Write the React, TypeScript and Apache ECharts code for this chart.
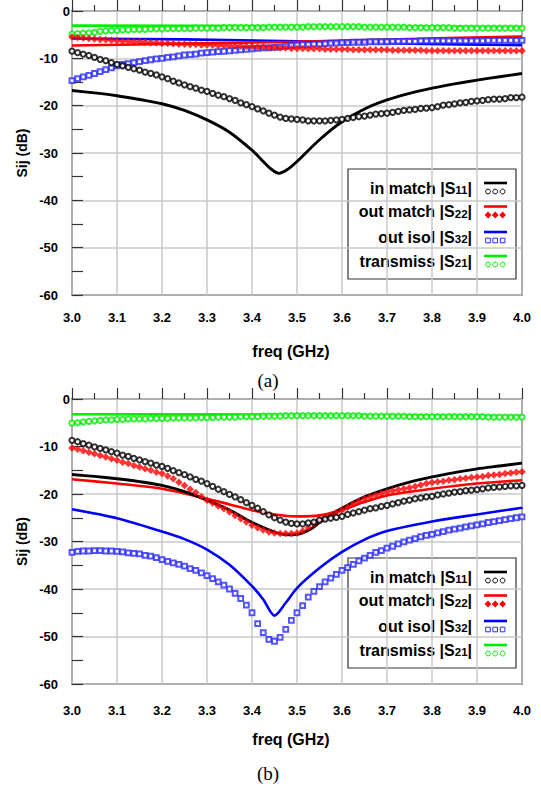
import React, { useEffect, useRef } from 'react';
import * as echarts from 'echarts';

// frequency grid of the simulated marker points (GHz), 81 points 3.0 .. 4.0
const FREQ: number[] = Array.from({ length: 81 }, (_, i) => Math.round((3 + i * 0.0125) * 10000) / 10000);
const X_TICKS = ['3.0', '3.1', '3.2', '3.3', '3.4', '3.5', '3.6', '3.7', '3.8', '3.9', '4.0'];
const Y_TICKS = ['0', '-10', '-20', '-30', '-40', '-50', '-60'];

// ---------- (a) simulated (markers) ----------
const A_S11_MARK = [
  -8.5, -8.8, -9.1, -9.4, -9.8, -10.2, -10.5, -10.9,
  -11.3, -11.6, -11.9, -12.2, -12.5, -12.9, -13.2, -13.5,
  -13.9, -14.3, -14.8, -15.2, -15.6, -16.0, -16.3, -16.7,
  -17.0, -17.4, -17.8, -18.1, -18.5, -18.9, -19.4, -19.8,
  -20.2, -20.7, -21.1, -21.6, -22.0, -22.4, -22.7, -22.8,
  -22.9, -23.0, -23.2, -23.2, -23.2, -23.2, -23.1, -23.0,
  -22.9, -22.7, -22.5, -22.3, -22.2, -22.0, -21.8, -21.7,
  -21.6, -21.4, -21.2, -21.0, -20.9, -20.8, -20.6, -20.5,
  -20.4, -20.2, -19.9, -19.8, -19.6, -19.4, -19.3, -19.1,
  -19.0, -18.9, -18.7, -18.6, -18.6, -18.5, -18.3, -18.3,
  -18.2,
];
const A_S22_MARK = [
  -5.5, -5.6, -5.7, -5.8, -5.9, -6.0, -6.1, -6.2,
  -6.3, -6.4, -6.4, -6.5, -6.5, -6.6, -6.7, -6.7,
  -6.8, -6.8, -6.9, -7.0, -7.0, -7.1, -7.1, -7.2,
  -7.2, -7.2, -7.3, -7.3, -7.3, -7.4, -7.4, -7.5,
  -7.5, -7.6, -7.6, -7.7, -7.7, -7.8, -7.8, -7.9,
  -7.9, -7.9, -8.0, -8.0, -8.0, -8.1, -8.1, -8.1,
  -8.1, -8.1, -8.2, -8.2, -8.2, -8.2, -8.2, -8.2,
  -8.2, -8.3, -8.3, -8.3, -8.3, -8.3, -8.3, -8.4,
  -8.4, -8.4, -8.4, -8.4, -8.4, -8.4, -8.4, -8.4,
  -8.4, -8.4, -8.4, -8.4, -8.4, -8.4, -8.4, -8.4,
  -8.4,
];
const A_S32_MARK = [
  -14.7, -14.3, -13.9, -13.6, -13.2, -12.8, -12.4, -12.0,
  -11.6, -11.3, -11.1, -10.9, -10.7, -10.5, -10.3, -10.1,
  -10.0, -9.8, -9.7, -9.5, -9.3, -9.2, -9.1, -8.9,
  -8.8, -8.7, -8.6, -8.5, -8.4, -8.3, -8.2, -8.1,
  -8.0, -7.9, -7.8, -7.8, -7.7, -7.6, -7.4, -7.3,
  -7.2, -7.1, -7.1, -7.0, -7.0, -6.9, -6.8, -6.8,
  -6.7, -6.7, -6.6, -6.6, -6.6, -6.5, -6.5, -6.5,
  -6.5, -6.4, -6.4, -6.4, -6.4, -6.4, -6.3, -6.3,
  -6.3, -6.3, -6.3, -6.3, -6.3, -6.3, -6.3, -6.3,
  -6.3, -6.3, -6.2, -6.2, -6.2, -6.2, -6.2, -6.2,
  -6.2,
];
const A_S21_MARK = [
  -4.9, -4.8, -4.7, -4.6, -4.5, -4.3, -4.2, -4.1,
  -4.1, -4.0, -4.0, -3.9, -3.9, -3.9, -3.8, -3.8,
  -3.8, -3.7, -3.7, -3.7, -3.7, -3.7, -3.6, -3.6,
  -3.6, -3.6, -3.6, -3.5, -3.5, -3.5, -3.5, -3.5,
  -3.5, -3.5, -3.5, -3.4, -3.4, -3.4, -3.4, -3.4,
  -3.4, -3.4, -3.3, -3.3, -3.3, -3.3, -3.3, -3.3,
  -3.3, -3.3, -3.3, -3.3, -3.4, -3.4, -3.4, -3.4,
  -3.4, -3.4, -3.4, -3.4, -3.5, -3.5, -3.5, -3.5,
  -3.5, -3.5, -3.5, -3.5, -3.6, -3.6, -3.6, -3.6,
  -3.6, -3.6, -3.6, -3.6, -3.6, -3.6, -3.6, -3.6,
  -3.6,
];

// ---------- (a) measured (solid lines) ----------
const A_S11_LINE_F = [3.0, 3.05, 3.1, 3.15, 3.2, 3.25, 3.3, 3.35, 3.4, 3.42, 3.44, 3.46, 3.48, 3.5, 3.55, 3.6, 3.65, 3.7, 3.75, 3.8, 3.85, 3.9, 3.95, 4.0];
const A_S11_LINE_V = [-16.8, -17.3, -17.9, -18.7, -19.6, -21.0, -23.0, -25.6, -29.4, -31.3, -33.2, -34.3, -33.4, -31.8, -27.2, -23.4, -20.7, -18.8, -17.4, -16.3, -15.4, -14.6, -13.9, -13.2];
const A_S22_LINE_F = [3.0, 3.25, 3.5, 3.75, 4.0];
const A_S22_LINE_V = [-7.3, -6.9, -6.5, -5.9, -5.4];
const A_S32_LINE_F = [3.0, 3.25, 3.5, 3.75, 4.0];
const A_S32_LINE_V = [-5.8, -6.0, -6.4, -6.9, -7.2];
const A_S21_LINE_F = [3.0, 3.5, 4.0];
const A_S21_LINE_V = [-3.1, -3.2, -3.4];

// ---------- (b) simulated (markers) ----------
const B_S11_MARK = [
  -8.7, -9.0, -9.4, -9.7, -10.1, -10.4, -10.7, -11.1,
  -11.4, -11.8, -12.1, -12.5, -12.8, -13.2, -13.5, -13.9,
  -14.2, -14.6, -15.1, -15.5, -15.9, -16.4, -16.9, -17.3,
  -17.8, -18.4, -19.0, -19.5, -20.1, -20.6, -21.2, -21.8,
  -22.4, -23.0, -23.7, -24.4, -25.0, -25.5, -25.9, -26.2,
  -26.3, -26.3, -26.1, -25.9, -25.5, -25.3, -25.1, -24.9,
  -24.7, -24.3, -24.0, -23.7, -23.4, -23.1, -22.9, -22.6,
  -22.4, -22.1, -21.8, -21.5, -21.3, -21.0, -20.8, -20.6,
  -20.5, -20.2, -20.0, -19.8, -19.6, -19.5, -19.3, -19.2,
  -19.1, -18.9, -18.7, -18.6, -18.5, -18.4, -18.3, -18.3,
  -18.2,
];
const B_S22_MARK = [
  -10.3, -10.6, -10.9, -11.2, -11.5, -11.9, -12.2, -12.6,
  -12.9, -13.3, -13.6, -14.0, -14.3, -14.7, -15.0, -15.4,
  -15.7, -16.2, -16.8, -17.5, -18.2, -19.0, -19.7, -20.5,
  -21.3, -21.9, -22.5, -23.1, -23.8, -24.5, -25.2, -25.9,
  -26.6, -27.1, -27.6, -28.0, -28.2, -28.3, -28.3, -28.3,
  -28.2, -27.8, -27.1, -26.3, -25.5, -24.9, -24.4, -23.9,
  -23.4, -22.8, -22.1, -21.5, -21.0, -20.6, -20.2, -19.9,
  -19.6, -19.3, -19.1, -18.9, -18.7, -18.4, -18.1, -17.8,
  -17.6, -17.4, -17.3, -17.1, -17.0, -16.8, -16.7, -16.5,
  -16.4, -16.3, -16.1, -16.0, -15.9, -15.7, -15.6, -15.4,
  -15.3,
];
const B_S32_MARK = [
  -32.3, -32.1, -32.0, -32.0, -31.9, -31.9, -32.0, -32.0,
  -32.1, -32.2, -32.4, -32.5, -32.6, -32.9, -33.1, -33.4,
  -33.8, -34.2, -34.5, -34.8, -35.2, -35.7, -36.1, -36.6,
  -37.2, -37.8, -38.5, -39.2, -40.0, -40.9, -42.0, -43.4,
  -45.0, -47.3, -49.2, -50.6, -51.0, -50.2, -48.5, -46.6,
  -45.0, -43.5, -41.7, -40.5, -39.5, -38.5, -37.7, -36.9,
  -36.1, -35.5, -34.8, -34.1, -33.5, -32.9, -32.3, -31.9,
  -31.4, -31.0, -30.5, -30.1, -29.7, -29.4, -29.0, -28.7,
  -28.5, -28.2, -27.9, -27.6, -27.4, -27.2, -26.9, -26.7,
  -26.5, -26.3, -26.0, -25.8, -25.6, -25.4, -25.2, -25.0,
  -24.8,
];
const B_S21_MARK = [
  -5.1, -5.0, -4.8, -4.7, -4.6, -4.5, -4.4, -4.4,
  -4.3, -4.3, -4.2, -4.2, -4.2, -4.2, -4.1, -4.1,
  -4.1, -4.1, -4.0, -4.0, -4.0, -4.0, -4.0, -3.9,
  -3.9, -3.9, -3.8, -3.8, -3.8, -3.8, -3.7, -3.7,
  -3.7, -3.7, -3.6, -3.6, -3.6, -3.6, -3.5, -3.5,
  -3.5, -3.5, -3.5, -3.5, -3.5, -3.5, -3.5, -3.5,
  -3.5, -3.5, -3.5, -3.5, -3.6, -3.6, -3.6, -3.6,
  -3.6, -3.6, -3.6, -3.6, -3.7, -3.7, -3.7, -3.7,
  -3.7, -3.7, -3.7, -3.7, -3.7, -3.7, -3.7, -3.7,
  -3.7, -3.7, -3.8, -3.8, -3.8, -3.8, -3.8, -3.8,
  -3.8,
];

// ---------- (b) measured (solid lines) ----------
const B_S11_LINE_F = [3.0, 3.05, 3.1, 3.15, 3.2, 3.25, 3.3, 3.35, 3.4, 3.45, 3.48, 3.5, 3.53, 3.55, 3.6, 3.65, 3.7, 3.75, 3.8, 3.85, 3.9, 3.95, 4.0];
const B_S11_LINE_V = [-15.9, -16.3, -16.8, -17.4, -18.2, -19.5, -21.3, -23.4, -26.0, -28.0, -28.6, -28.5, -27.4, -26.0, -23.0, -20.6, -18.9, -17.5, -16.4, -15.5, -14.7, -14.1, -13.5];
const B_S22_LINE_F = [3.0, 3.1, 3.2, 3.3, 3.35, 3.4, 3.45, 3.5, 3.55, 3.6, 3.65, 3.7, 3.8, 3.9, 4.0];
const B_S22_LINE_V = [-16.9, -17.8, -18.9, -21.0, -22.2, -23.4, -24.3, -24.7, -24.5, -23.3, -21.7, -20.3, -18.9, -17.8, -17.1];
const B_S32_LINE_F = [3.0, 3.1, 3.2, 3.25, 3.3, 3.35, 3.4, 3.425, 3.45, 3.475, 3.5, 3.55, 3.6, 3.65, 3.7, 3.8, 3.9, 4.0];
const B_S32_LINE_V = [-23.2, -25.1, -27.9, -29.5, -31.7, -34.9, -39.4, -42.2, -45.6, -42.9, -39.8, -35.6, -32.2, -29.6, -27.8, -25.8, -24.3, -22.9];
const B_S21_LINE_F = [3.0, 3.5, 4.0];
const B_S21_LINE_V = [-3.2, -3.3, -3.6];

const LEGEND_LABELS = [
  ['in match |S', '11'],
  ['out match |S', '22'],
  ['out isol |S', '32'],
  ['transmiss |S', '21'],
];

const BLACK = '#000000';
const RED = '#ff0000';
const BLUE = '#0000ff';
const BLUE_SQ = '#2a2aff';
const GREEN = '#00ee00';
const SANS = '"Liberation Sans", Arial, Helvetica, sans-serif';
const SERIF = '"Liberation Serif", "Times New Roman", serif';

function pairs(fs: number[], vs: number[]) {
  const n = Math.min(fs.length, vs.length);
  const out: number[][] = [];
  for (let i = 0; i < n; i++) out.push([fs[i], vs[i]]);
  return out;
}

function lineSeries(idx: number, fs: number[], vs: number[], color: string, width = 2.6) {
  return {
    type: 'line',
    xAxisIndex: idx,
    yAxisIndex: idx,
    data: pairs(fs, vs),
    showSymbol: false,
    smooth: 0.3,
    lineStyle: { color, width },
    itemStyle: { color },
    z: 3,
  };
}

function markSeries(idx: number, vs: number[], color: string, symbol: string, size: number | number[], filled = false) {
  return {
    type: 'scatter',
    xAxisIndex: idx,
    yAxisIndex: idx,
    data: pairs(FREQ, vs),
    symbol,
    symbolSize: size,
    itemStyle: filled ? { color } : { color, borderColor: color, borderWidth: 1.15 },
    z: 4,
  };
}

function xAxis(gridIndex: number, margin: number) {
  return {
    type: 'value',
    gridIndex,
    min: 3,
    max: 4,
    interval: 0.1,
    axisLine: { show: false },
    axisTick: { show: true, inside: true, length: 11, lineStyle: { color: '#333', width: 1.2 } },
    minorTick: { show: true, splitNumber: 2, length: 6, lineStyle: { color: '#333', width: 1.2 } },
    splitLine: { show: true, lineStyle: { color: '#c8c8c8', width: 1.5 } },
    axisLabel: {
      color: '#000',
      fontWeight: 'bold',
      fontFamily: SANS,
      fontSize: 13,
      margin,
      formatter: (v: number) => X_TICKS[Math.round((v - 3) * 10)] ?? v.toFixed(1),
    },
  };
}

function yAxis(gridIndex: number) {
  return {
    type: 'value',
    gridIndex,
    min: -60,
    max: 0,
    interval: 10,
    axisLine: { show: false },
    axisTick: { show: true, inside: true, length: 11, lineStyle: { color: '#333', width: 1.2 } },
    minorTick: { show: true, splitNumber: 2, length: 11, lineStyle: { color: '#333', width: 1.2 } },
    splitLine: { show: true, lineStyle: { color: '#c8c8c8', width: 1.5 } },
    axisLabel: {
      color: '#000',
      fontWeight: 'bold',
      fontFamily: SANS,
      fontSize: 13,
      margin: 14,
      // the top "0" label sits closer to the axis in the original; drawn separately
      formatter: (v: number) => (Math.round(v) === 0 ? '' : Y_TICKS[Math.round(-v / 10)] ?? String(v)),
    },
  };
}

function legendGroup(left: number, top: number) {
  const rowsY = [18, 41.5, 67, 91];
  const colors = [BLACK, RED, BLUE, GREEN];
  const children: any[] = [
    {
      type: 'rect',
      shape: { x: 0, y: 0, width: 168, height: 110 },
      style: { fill: '#fff', stroke: '#333', lineWidth: 1.2 },
    },
  ];
  LEGEND_LABELS.forEach((lab, i) => {
    const ty = rowsY[i];
    children.push({
      type: 'text',
      x: 124,
      y: ty,
      style: {
        text: `{a|${lab[0]}}{b|${lab[1]}}{a||}`,
        align: 'right',
        verticalAlign: 'middle',
        fill: '#000',
        rich: {
          a: { fontSize: 16, fontWeight: 'bold', fontFamily: SANS, fill: '#000', lineHeight: 18, verticalAlign: 'bottom' },
          b: { fontSize: 11.5, fontWeight: 'bold', fontFamily: SANS, fill: '#000', lineHeight: 16, verticalAlign: 'bottom' },
        },
      },
    });
    children.push({
      type: 'line',
      shape: { x1: 136, y1: ty - 4, x2: 159, y2: ty - 4 },
      style: { stroke: colors[i], lineWidth: 2.6 },
    });
    const mx = [140, 147.2, 154.6];
    mx.forEach((x) => {
      const y = ty + 4.5;
      if (i === 0 || i === 3) {
        children.push({ type: 'circle', shape: { cx: x, cy: y, r: 2.4 }, style: { fill: '#fff', stroke: colors[i], lineWidth: 1 } });
      } else if (i === 1) {
        children.push({ type: 'polygon', shape: { points: [[x, y - 3.4], [x + 3.4, y], [x, y + 3.4], [x - 3.4, y]] }, style: { fill: RED } });
      } else {
        children.push({ type: 'rect', shape: { x: x - 2.3, y: y - 2.3, width: 4.6, height: 4.6 }, style: { fill: '#fff', stroke: BLUE_SQ, lineWidth: 1 } });
      }
    });
  });
  return { type: 'group', x: left, y: top, z: 100, children };
}

function titleTexts(plotTop: number, plotH: number, freqY: number, capY: number, cap: string) {
  return [
    {
      type: 'text',
      x: 70,
      y: plotTop,
      style: { text: Y_TICKS[0], fontSize: 13, fontWeight: 'bold', fontFamily: SANS, fill: '#000', align: 'right', verticalAlign: 'middle' },
    },
    {
      type: 'text',
      x: 22,
      y: plotTop + plotH / 2,
      rotation: Math.PI / 2,
      style: { text: 'Sij (dB)', fontSize: 14, fontWeight: 'bold', fontFamily: SANS, fill: '#000', align: 'center', verticalAlign: 'middle' },
    },
    {
      type: 'text',
      x: 291,
      y: freqY,
      style: { text: 'freq (GHz)', fontSize: 16, fontWeight: 'bold', fontFamily: SANS, fill: '#000', align: 'center', verticalAlign: 'middle' },
    },
    {
      type: 'text',
      x: 268,
      y: capY,
      style: { text: cap, fontSize: 19, fontFamily: SERIF, fill: '#000', align: 'center', verticalAlign: 'middle' },
    },
  ];
}

export default function App() {
  const ref = useRef<HTMLDivElement>(null);
  useEffect(() => {
    if (!ref.current) return;
    const chart = echarts.init(ref.current, null, { renderer: 'svg' });
    const option: any = {
      animation: false,
      backgroundColor: '#fff',
      grid: [
        { left: 72, top: 11, width: 450, height: 284, show: true, borderColor: '#333', borderWidth: 1.5, backgroundColor: 'transparent' },
        { left: 72, top: 399, width: 450, height: 285, show: true, borderColor: '#333', borderWidth: 1.5, backgroundColor: 'transparent' },
      ],
      xAxis: [xAxis(0, 16), xAxis(1, 20)],
      yAxis: [yAxis(0), yAxis(1)],
      series: [
        // (a)
        lineSeries(0, A_S21_LINE_F, A_S21_LINE_V, GREEN),
        lineSeries(0, A_S32_LINE_F, A_S32_LINE_V, BLUE),
        lineSeries(0, A_S22_LINE_F, A_S22_LINE_V, RED),
        lineSeries(0, A_S11_LINE_F, A_S11_LINE_V, BLACK, 2.9),
        markSeries(0, A_S21_MARK, GREEN, 'emptyCircle', 5.2),
        markSeries(0, A_S32_MARK, BLUE_SQ, 'emptyRect', 4.8),
        markSeries(0, A_S22_MARK, RED, 'diamond', 7.5, true),
        markSeries(0, A_S11_MARK, BLACK, 'emptyCircle', 5.2),
        // (b)
        lineSeries(1, B_S21_LINE_F, B_S21_LINE_V, GREEN),
        lineSeries(1, B_S32_LINE_F, B_S32_LINE_V, BLUE),
        lineSeries(1, B_S22_LINE_F, B_S22_LINE_V, RED),
        lineSeries(1, B_S11_LINE_F, B_S11_LINE_V, BLACK, 2.9),
        markSeries(1, B_S21_MARK, GREEN, 'emptyCircle', 5.2),
        markSeries(1, B_S32_MARK, BLUE_SQ, 'emptyRect', 4.8),
        markSeries(1, B_S22_MARK, RED, 'diamond', 7.5, true),
        markSeries(1, B_S11_MARK, BLACK, 'emptyCircle', 5.2),
      ],
      graphic: [
        ...titleTexts(11, 284, 351, 380, '(a)'),
        ...titleTexts(399, 285, 739, 773, '(b)'),
        legendGroup(348, 169),
        legendGroup(348, 558),
      ],
    };
    chart.setOption(option);
    return () => chart.dispose();
  }, []);
  return <div ref={ref} style={{ position: 'fixed', left: 0, top: 0, width: 541, height: 790 }} />;
}
